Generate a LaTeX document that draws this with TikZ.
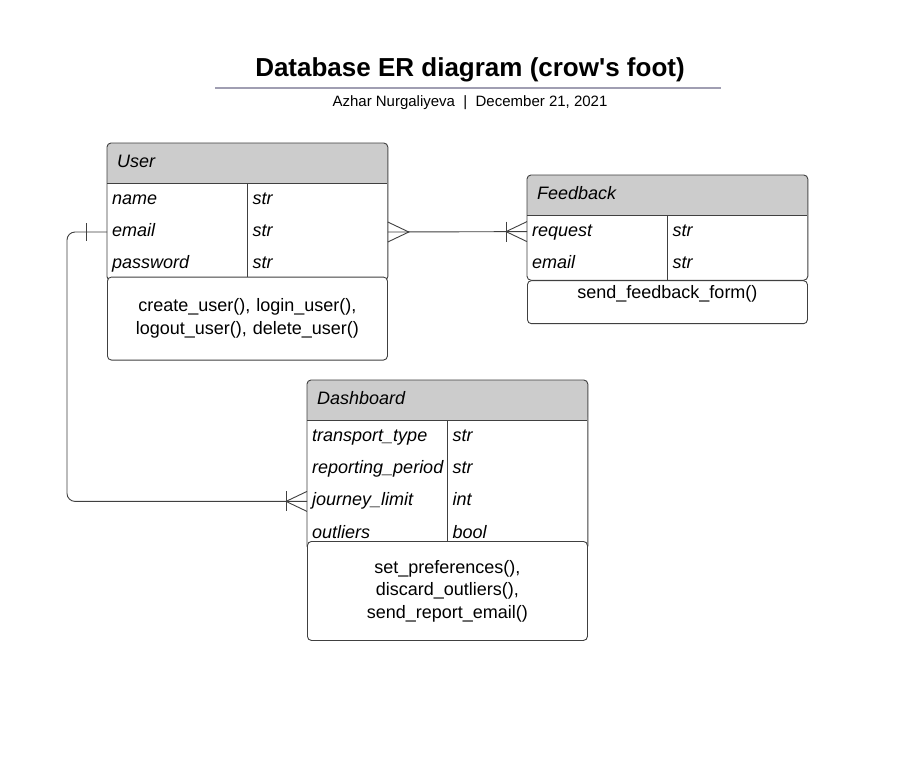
\documentclass[tikz,border=0pt]{standalone}
\usepackage{fontspec}
\setmainfont{Liberation Sans}
\usetikzlibrary{positioning,calc,backgrounds}
\definecolor{linegray}{RGB}{64,64,64}
\definecolor{headgray}{RGB}{204,204,204}
\definecolor{rulegray}{RGB}{160,158,178}
\begin{document}
\begin{tikzpicture}[x=1pt,y=-1pt,
  entityhead/.style={anchor=north west, minimum height=40pt, text width=260pt, inner xsep=10pt, align=left, text height=13pt, text depth=4pt, font=\itshape\fontsize{18}{21}\selectfont},
  attrname/.style={minimum height=32pt, text width=130pt, inner xsep=5pt, inner ysep=0pt, align=left, text height=13pt, text depth=4pt, font=\itshape\fontsize{18}{21}\selectfont},
  attrtype/.style={attrname},
  methods/.style={draw=linegray, line width=0.9pt, fill=white, rounded corners=4pt, anchor=north west, text width=270pt, inner xsep=5pt, align=center, font=\fontsize{18}{22.5}\selectfont},
  outline/.style={draw=linegray, line width=0.9pt},
  conn/.style={draw=linegray, line width=0.9pt}]
\useasboundingbox (0,0) rectangle (913,766);
% title
\node[font=\bfseries\fontsize{26}{30}\selectfont] (title) at (470,70) {Database ER diagram (crow\textquotesingle s foot)};
\draw[rulegray, line width=1.5pt] (215,88) -- (721,88);
\node[font=\fontsize{15}{18}\selectfont] (author) at (470,103) {Azhar Nurgaliyeva\ \ |\ \ December 21, 2021};

% User
\node[entityhead] (user) at (107,143) {User};
\node[attrname, anchor=north west] (user-name) at (user.south west) {name};
\node[attrname, below=0pt of user-name] (user-email) {email};
\node[attrname, below=0pt of user-email] (user-password) {password};
\node[attrtype, right=0pt of user-name] (user-nameT) {str};
\node[attrtype, right=0pt of user-email] (user-emailT) {str};
\node[attrtype, right=0pt of user-password] (user-passwordT) {str};
\draw[outline, rounded corners=4pt] (user.north west) rectangle (user-passwordT.south east);
\draw[outline] (user.south west) -- (user.south east);
\draw[outline] (user-nameT.north west) -- (user-passwordT.south west);
\node[methods, minimum height=83pt] (user-methods) at ([yshift=4pt]user-password.south west) {create\_user(), login\_user(),\\ logout\_user(), delete\_user()};

% Feedback
\node[entityhead] (fb) at (527,175) {Feedback};
\node[attrname, anchor=north west] (fb-request) at (fb.south west) {request};
\node[attrname, below=0pt of fb-request] (fb-email) {email};
\node[attrtype, right=0pt of fb-request] (fb-requestT) {str};
\node[attrtype, right=0pt of fb-email] (fb-emailT) {str};
\draw[outline, rounded corners=4pt] (fb.north west) rectangle (fb-emailT.south east);
\draw[outline] (fb.south west) -- (fb.south east);
\draw[outline] (fb-requestT.north west) -- (fb-emailT.south west);
\node[methods, minimum height=43pt, inner ysep=5pt, text depth=20pt] (fb-methods) at ([yshift=0pt]fb-email.south west) {send\_feedback\_form()};

% Dashboard
\node[entityhead] (dash) at (307,380) {Dashboard};
\node[attrname, anchor=north west] (dash-transport) at (dash.south west) {transport\_type};
\node[attrname, below=0pt of dash-transport] (dash-period) {reporting\_period};
\node[attrname, below=0pt of dash-period] (dash-journey) {journey\_limit};
\node[attrname, below=0pt of dash-journey] (dash-outliers) {outliers};
\node[attrtype, right=0pt of dash-transport] (dash-transportT) {str};
\node[attrtype, right=0pt of dash-period] (dash-periodT) {str};
\node[attrtype, right=0pt of dash-journey] (dash-journeyT) {int};
\node[attrtype, right=0pt of dash-outliers] (dash-outliersT) {bool};
\draw[outline, rounded corners=4pt] (dash.north west) rectangle (dash-outliersT.south east);
\draw[outline] (dash.south west) -- (dash.south east);
\draw[outline] (dash-transportT.north west) -- (dash-outliersT.south west);
\node[methods, minimum height=99pt] (dash-methods) at ([yshift=9pt]dash-outliers.south west) {set\_preferences(),\\ discard\_outliers(),\\ send\_report\_email()};

% user -- feedback (many to one-or-many)
\draw[conn] (user-emailT.east) -- (fb-request.west);
\draw[conn] ($(user-emailT.east)+(0,-10)$) -- ++(21,10) -- ++(-21,10);
\draw[conn] ($(fb-request.west)+(0,-10)$) -- ++(-21,10) -- ++(21,10);
\draw[conn] ($(fb-request.west)+(-21,-10)$) -- ++(0,20);

% user -- dashboard (one to one-or-many)
\coordinate (bend) at (67,0);
\draw[conn, rounded corners=8pt] (user-email.west) -- (user-email.west -| bend) |- (dash-journey.west);
\draw[conn] ($(user-email.west)+(-21,-9)$) -- ++(0,18);
\draw[conn] ($(dash-journey.west)+(0,-10)$) -- ++(-21,10) -- ++(21,10);
\draw[conn] ($(dash-journey.west)+(-21,-10)$) -- ++(0,20);

\begin{scope}[on background layer]
\fill[white] (0,0) rectangle (913,766);
\fill[headgray, rounded corners=4pt] (user.north west) rectangle (user.south east);
\fill[headgray] (user.west) rectangle (user.south east);
\fill[headgray, rounded corners=4pt] (fb.north west) rectangle (fb.south east);
\fill[headgray] (fb.west) rectangle (fb.south east);
\fill[headgray, rounded corners=4pt] (dash.north west) rectangle (dash.south east);
\fill[headgray] (dash.west) rectangle (dash.south east);
\end{scope}
\end{tikzpicture}
\end{document}
